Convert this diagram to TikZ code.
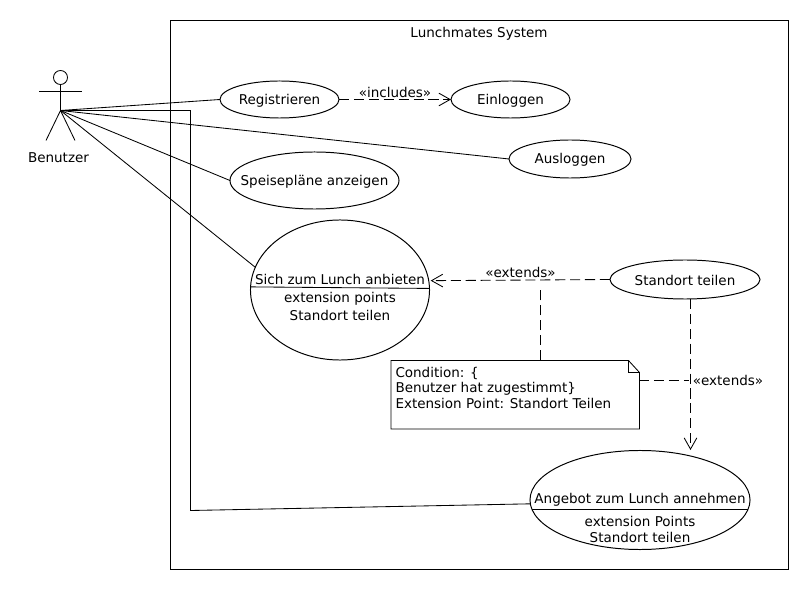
\documentclass[tikz,border=0pt]{standalone}
\usepackage{fontspec}
\setmainfont{DejaVu Sans}
\usetikzlibrary{shapes.geometric, arrows.meta}
\tikzset{
  usecase/.style={shape=ellipse, draw=black, line width=0.7pt, inner sep=0pt, outer sep=0pt},
  txt/.style={inner sep=0pt, outer sep=0pt, yshift=-0.7pt, font=\fontsize{9.6}{11}\selectfont},
  dep/.style={semithick, dash pattern=on 7.2pt off 3.4pt},
  deparrow/.style={dep, -{Straight Barb[length=8pt, width=9pt, line width=0.6pt]}},
  assoc/.style={semithick, draw=black}
}
\begin{document}
\begin{tikzpicture}[x=0.025cm, y=-0.025cm]
\useasboundingbox (0,0) rectangle (810,590);
% system frame
\draw[semithick] (170.5,20.5) rectangle (788.5,569.5);
\node[txt] (title) at (479,32.5) {Lunchmates System};
% actor
\node[shape=circle, draw=black, semithick, minimum size=0.35cm, inner sep=0pt] (head) at (60.5,77.5) {};
\coordinate (hub) at (60.5,110.5);
\coordinate (armL) at (39,91.5);
\coordinate (armR) at (82,91.5);
\coordinate (legL) at (46,140.5);
\coordinate (legR) at (75,140.5);
\draw[semithick] (head) -- (hub);
\draw[semithick] (armL) -- (armR);
\draw[semithick] (legL) -- (hub) -- (legR);
\node[txt] (actor) at (58.5,157) {Benutzer};
% use cases
\node[usecase, minimum width=2.975cm, minimum height=0.925cm, label={[txt]center:Registrieren}] (reg) at (279.5,99.5) {};
\node[usecase, minimum width=2.975cm, minimum height=0.925cm, label={[txt]center:Einloggen}] (login) at (510.5,99.5) {};
\node[usecase, minimum width=3.05cm, minimum height=0.95cm, label={[txt]center:Ausloggen}] (logout) at (570,159) {};
\node[usecase, minimum width=4.225cm, minimum height=1.425cm, label={[txt]center:Speisepläne anzeigen}] (menu) at (314.5,180.5) {};
\node[usecase, minimum width=3.75cm, minimum height=0.975cm, label={[txt]center:Standort teilen}] (share) at (685,279.5) {};
\node[usecase, minimum width=4.475cm, minimum height=3.5cm] (offer) at (340,290) {};
\node[txt] (offerName) at (340,278) {Sich zum Lunch anbieten};
\node[txt] (offerExt) at (340,298) {extension points};
\node[txt] (offerPoint) at (340,314) {Standort teilen};
\draw[assoc] (offer.178.7) -- (offer.1.3);
\node[usecase, minimum width=5.5cm, minimum height=2.475cm] (accept) at (640,500) {};
\node[txt] (acceptName) at (640,499) {Angebot zum Lunch annehmen};
\node[txt] (acceptExt) at (640,520) {extension Points};
\node[txt] (acceptPoint) at (640,536) {Standort teilen};
\draw[assoc] (accept.185.3) -- (accept.-5.3);
% actor connectors
\coordinate (bend) at (190.5,510.5);
\path [assoc] (hub) edge (reg.west);
\path [assoc] (hub) edge (logout.west);
\path [assoc] (hub) edge (menu.west);
\path [assoc] (hub) edge (offer.165.5);
\draw [assoc] (hub) -| (bend) -- (accept.182.6);
% dependencies
\draw[deparrow] (reg.east) -- (login.west);
\node[txt] (incl) at (395,91) {«includes»};
\draw[deparrow, shorten >=1.4pt] (share.west) -- (offer.6.5);
\node[txt] (ext1) at (520.5,271) {«extends»};
\coordinate (shareOut) at (690.5,299);
\coordinate (acceptIn) at (690.5,450);
\draw[deparrow] (shareOut) -- (acceptIn);
\node[txt] (ext2) at (728,379) {«extends»};
% note
\node[minimum width=6.2cm, minimum height=1.725cm, inner sep=0pt, outer sep=0pt] (note) at (515,394.5) {};
\coordinate (foldA) at (628.5,360.5);
\coordinate (foldB) at (639.5,372.5);
\coordinate (foldC) at (628.5,372.5);
\draw[semithick] (note.south west) |- (foldA) -- (foldB) |- cycle;
\draw[semithick] (foldA) -- (foldC) -- (foldB);
\node[txt, anchor=north west, align=left] (noteText) at (395.5,366) {Condition: \{\\Benutzer hat zugestimmt\}\\Extension Point: Standort Teilen};
\coordinate (noteUp) at (540.5,290);
\coordinate (noteOut) at (689,380.5);
\draw[dep] (note.north -| noteUp) -- (noteUp);
\draw[dep] (note.east |- noteOut) -- (noteOut);
\end{tikzpicture}
\end{document}
